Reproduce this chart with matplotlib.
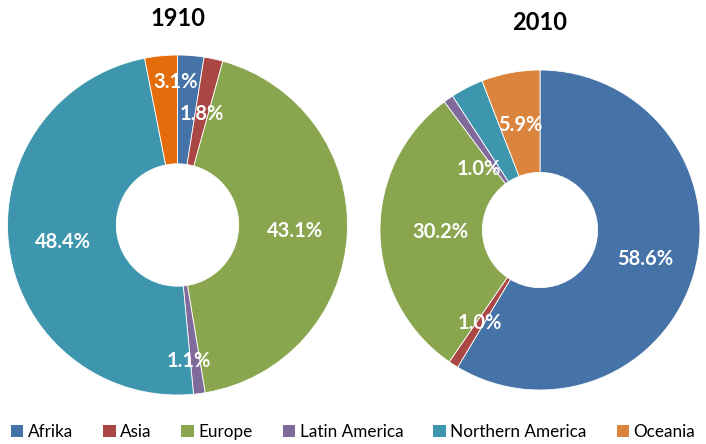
import matplotlib
matplotlib.use("Agg")
import matplotlib.pyplot as plt
import numpy as np
from matplotlib.patches import Patch

plt.rcParams['font.family'] = ['Lato', 'DejaVu Sans']

# ---- data ----
regions = ["Afrika", "Asia", "Europe", "Latin America", "Northern America", "Oceania"]
share_1910 = [2.5, 1.8, 43.1, 1.1, 48.4, 3.1]
share_2010 = [58.6, 1.0, 30.2, 1.0, 3.3, 5.9]
years = ["1910", "2010"]

# ---- style ----
colors = ["#4572A7", "#AA4643", "#89A54E", "#80699B", "#3D96AE", "#DB843D"]
colors_1910 = colors[:5] + ["#E46C0A"]
show_1910 = [False, True, True, True, True, True]
show_2010 = [True, True, True, True, False, True]
# (angle shift in degrees, radius) for label placement
place_1910 = [(0, 0.67), (0, 0.67), (0, 0.69), (2.6, 0.80), (0, 0.68), (5.0, 0.84)]
place_2010 = [(0, 0.68), (0, 0.69), (0, 0.625), (-10, 0.54), (0, 0.67), (0, 0.67)]

W, H = 706, 444
fig = plt.figure(figsize=(W / 100, H / 100), dpi=100)


def draw(values, cols, show, place, cx, cy, r, title, ty):
    ax = fig.add_axes([(cx - r) / W, (H - cy - r) / H, 2 * r / W, 2 * r / H])
    ax.pie(values, colors=cols, startangle=90, counterclock=False, radius=1,
           wedgeprops=dict(width=0.64, edgecolor='white', linewidth=0.6))
    total = float(sum(values))
    cum = 0.0
    for v, s, (da, rr) in zip(values, show, place):
        mid = 360.0 * (cum + v / 2.0) / total + da
        cum += v
        if not s:
            continue
        t = np.deg2rad(mid)
        ax.text(rr * np.sin(t), rr * np.cos(t), f"{v:.1f}%", ha='center', va='center',
                color='white', fontsize=14.5, fontweight='bold')
    ax.set_xlim(-1, 1)
    ax.set_ylim(-1, 1)
    ax.set_aspect('equal')
    ax.axis('off')
    fig.text(cx / W, 1 - ty / H, title, ha='center', va='center',
             fontsize=17, fontweight='bold', color='black')


draw(share_1910, colors_1910, show_1910, place_1910, 177.5, 225, 170, years[0], 18)
draw(share_2010, colors, show_2010, place_2010, 540, 230, 160, years[1], 23)

handles = [Patch(facecolor=c, edgecolor='none') for c in colors]
fig.legend(handles, regions, loc='center', bbox_to_anchor=(0.5, 1 - 432 / H), ncol=6,
           frameon=False, fontsize=12.3, handlelength=0.75, handleheight=0.75,
           handletextpad=0.25, columnspacing=1.75, borderaxespad=0, borderpad=0)

fig.savefig("out.png", dpi=100)
